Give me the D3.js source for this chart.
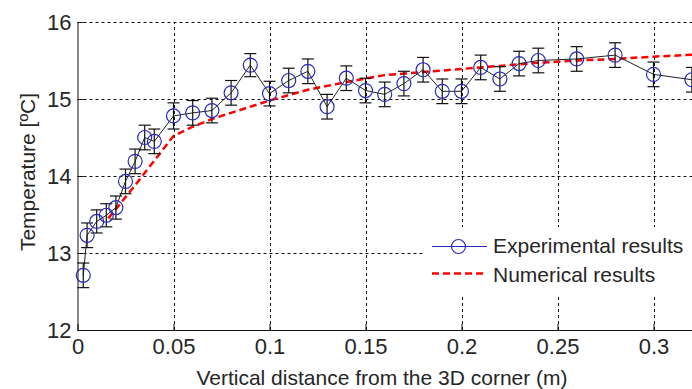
<!DOCTYPE html>
<head>
  <meta charset="utf-8">
  <style>
    body { margin: 0; background: #fff; }
    svg text { font-family: "Liberation Sans", Arial, sans-serif; fill: #262626; }
  </style>
</head>
<body>
  <svg width="692" height="389" id="chart"></svg>
  <script src="https://d3js.org/d3.v7.min.js"></script>
  <script>
    // experimental points (x in m, temperature in ºC, error half-width)
    const expX = [0.003, 0.005, 0.01, 0.015, 0.02, 0.025, 0.03, 0.035, 0.04, 0.05, 0.06, 0.07, 0.08, 0.09, 0.1,
                  0.11, 0.12, 0.13, 0.14, 0.15, 0.16, 0.17, 0.18, 0.19, 0.2, 0.21, 0.22, 0.23, 0.24, 0.26, 0.28, 0.3, 0.32];
    const expY = [12.71, 13.23, 13.41, 13.49, 13.59, 13.93, 14.19, 14.5, 14.45, 14.78, 14.82, 14.85, 15.08, 15.44, 15.07,
                  15.24, 15.36, 14.9, 15.27, 15.11, 15.06, 15.2, 15.38, 15.1, 15.1, 15.41, 15.26, 15.46, 15.5, 15.52, 15.57, 15.32, 15.25];
    const expErr = [0.16, 0.16, 0.15, 0.15, 0.15, 0.16, 0.16, 0.16, 0.16, 0.17, 0.16, 0.16, 0.16, 0.15, 0.16,
                    0.16, 0.16, 0.16, 0.16, 0.16, 0.16, 0.16, 0.16, 0.16, 0.16, 0.16, 0.16, 0.16, 0.16, 0.16, 0.16, 0.16, 0.16];

    // numerical curve
    const numX = [0.016, 0.02, 0.03, 0.04, 0.05, 0.06, 0.07, 0.08, 0.09, 0.1, 0.12, 0.14, 0.16, 0.18, 0.2,
                  0.22, 0.24, 0.26, 0.28, 0.3, 0.325];
    const numY = [13.45, 13.57, 13.88, 14.2, 14.52, 14.64, 14.74, 14.82, 14.9, 14.98, 15.12, 15.22, 15.31, 15.35, 15.39,
                  15.43, 15.47, 15.5, 15.52, 15.55, 15.58];

    const xTicks = [0, 0.05, 0.1, 0.15, 0.2, 0.25, 0.3];
    const yTicks = [12, 13, 14, 15, 16];

    const svg = d3.select("#chart");
    const x = d3.scaleLinear().domain([0, 0.3]).range([77.5, 653.5]);
    const y = d3.scaleLinear().domain([12, 16]).range([330, 22]);
    const xMax = 0.33;
    const px = v => Math.round(v) + 0.5;

    // grid
    const grid = svg.append("g")
        .attr("stroke", "#111")
        .attr("stroke-dasharray", "3,3")
        .attr("stroke-width", 1);
    grid.selectAll(".gx").data(xTicks.slice(1)).enter().append("line")
        .attr("x1", d => px(x(d))).attr("x2", d => px(x(d)))
        .attr("y1", y(12)).attr("y2", y(16));
    grid.selectAll(".gy").data(yTicks.slice(1)).enter().append("line")
        .attr("x1", x(0)).attr("x2", x(xMax))
        .attr("y1", d => px(y(d))).attr("y2", d => px(y(d)));

    // legend background (covers grid)
    svg.append("rect")
        .attr("x", 425).attr("y", 227)
        .attr("width", 280).attr("height", 68)
        .attr("fill", "#fff");

    // numerical line
    const num = numX.map((d, i) => [d, numY[i]]);
    svg.append("path")
        .datum(num)
        .attr("fill", "none")
        .attr("stroke", "#ff0000")
        .attr("stroke-width", 2.5)
        .attr("stroke-dasharray", "7,4")
        .attr("d", d3.line().x(d => x(d[0])).y(d => y(d[1])));

    // experimental
    const exp = expX.map((d, i) => ({x: d, y: expY[i], e: expErr[i]}));
    svg.append("path")
        .datum(exp)
        .attr("fill", "none")
        .attr("stroke", "#222")
        .attr("stroke-width", 1)
        .attr("d", d3.line().x(d => x(d.x)).y(d => y(d.y)));

    const eb = svg.append("g").attr("stroke", "#111").attr("stroke-width", 1.2);
    eb.selectAll(".v").data(exp).enter().append("line")
        .attr("x1", d => x(d.x)).attr("x2", d => x(d.x))
        .attr("y1", d => y(d.y - d.e)).attr("y2", d => y(d.y + d.e));
    eb.selectAll(".t").data(exp).enter().append("line")
        .attr("x1", d => x(d.x) - 6).attr("x2", d => x(d.x) + 6)
        .attr("y1", d => y(d.y + d.e)).attr("y2", d => y(d.y + d.e));
    eb.selectAll(".b").data(exp).enter().append("line")
        .attr("x1", d => x(d.x) - 6).attr("x2", d => x(d.x) + 6)
        .attr("y1", d => y(d.y - d.e)).attr("y2", d => y(d.y - d.e));

    svg.append("g").selectAll("circle").data(exp).enter().append("circle")
        .attr("cx", d => x(d.x)).attr("cy", d => y(d.y))
        .attr("r", 7)
        .attr("fill", "none")
        .attr("stroke", "#2a2ab8")
        .attr("stroke-width", 1.2);

    // axes
    const xAxis = d3.axisBottom(x).tickValues(xTicks)
        .tickFormat(d => d === 0 ? "0" : String(+d.toFixed(2)))
        .tickSizeInner(-6).tickSizeOuter(0).tickPadding(8);
    const gx = svg.append("g").attr("transform", `translate(0,${y(12)})`).call(xAxis);
    gx.select(".domain").attr("d", `M${x(0)},0.5H${x(xMax)}`).attr("stroke", "#111");
    gx.selectAll(".tick line").attr("stroke", "#111");
    gx.selectAll("text").style("font-size", "22px").attr("fill", "#262626");

    const yAxis = d3.axisLeft(y).tickValues(yTicks).tickFormat(d3.format("d"))
        .tickSizeInner(-6).tickSizeOuter(0).tickPadding(6);
    const gy = svg.append("g").attr("transform", `translate(${x(0)},0)`).call(yAxis);
    gy.select(".domain").attr("stroke", "#111");
    gy.selectAll(".tick line").attr("stroke", "#111");
    gy.selectAll("text").style("font-size", "22px").attr("fill", "#262626");

    // axis titles
    svg.append("text")
        .attr("x", 382).attr("y", 385)
        .attr("text-anchor", "middle")
        .style("font-size", "21px")
        .text("Vertical distance from the 3D corner (m)");
    svg.append("text")
        .attr("transform", "translate(35,172) rotate(-90)")
        .attr("text-anchor", "middle")
        .style("font-size", "21px")
        .text("Temperature [ºC]");

    // legend
    const lg = svg.append("g");
    lg.append("line").attr("x1", 432).attr("x2", 487).attr("y1", 246.5).attr("y2", 246.5)
        .attr("stroke", "#2a2ab8").attr("stroke-width", 1.2);
    lg.append("circle").attr("cx", 458.5).attr("cy", 246.5).attr("r", 7)
        .attr("fill", "none").attr("stroke", "#2a2ab8").attr("stroke-width", 1.2);
    lg.append("text").attr("x", 493).attr("y", 253).style("font-size", "21px").text("Experimental results");
    lg.append("line").attr("x1", 432).attr("x2", 487).attr("y1", 273.5).attr("y2", 273.5)
        .attr("stroke", "#ff0000").attr("stroke-width", 2.5).attr("stroke-dasharray", "7,4");
    lg.append("text").attr("x", 493).attr("y", 282).style("font-size", "21px").text("Numerical results");
  </script>
</body>
